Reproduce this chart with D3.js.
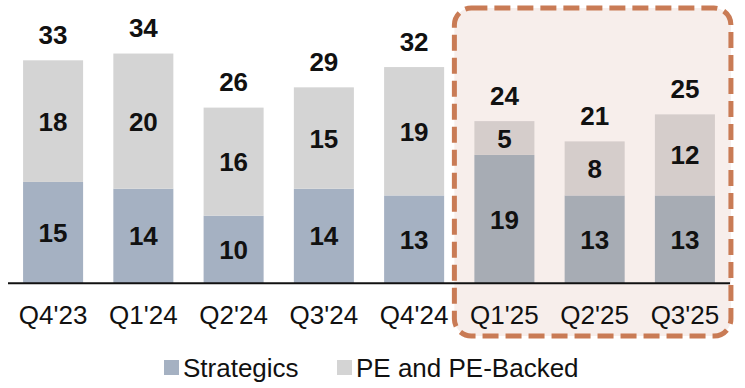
<!DOCTYPE html>
<html>
<head>
    <title></title>
    <script src="https://d3js.org/d3.v7.min.js"></script>
    <style type="text/css">
        html, body {
            margin: 0;
            padding: 0;
            background: #fff;
        }
        text {
            font-family: Arial, "Liberation Sans", sans-serif;
        }
    </style>
</head>
<body>

    <svg id="main"></svg>

    <script>
      // data
      const quarters    = ["Q4'23", "Q1'24", "Q2'24", "Q3'24", "Q4'24", "Q1'25", "Q2'25", "Q3'25"];
      const strategics  = [15, 14, 10, 14, 13, 19, 13, 13];
      const peBacked    = [18, 20, 16, 15, 19, 5, 8, 12];
      const highlighted = ["Q1'25", "Q2'25", "Q3'25"];
      const seriesNames = ["Strategics", "PE and PE-Backed"];

      // settings
      const width  = 745;
      const height = 388;
      const colors = {
        strategics: "#a5b1c2",
        pe:         "#d4d4d4",
        strategicsHi: "#a7acb4",
        peHi:       "#d5cdcb",
        boxFill:    "#f7eeeb",
        boxStroke:  "#c97b55"
      };

      const svg = d3.select("#main")
        .attr("width", width)
        .attr("height", height);

      const x = d3.scaleBand()
        .domain(quarters)
        .range([8, 730])
        .paddingInner(0.335)
        .paddingOuter(0.167);

      const y = d3.scaleLinear()
        .domain([0, 40])
        .range([283.3, 13]);

      const rows = quarters.map((q, i) => ({
        q: q,
        s: strategics[i],
        p: peBacked[i],
        hi: highlighted.includes(q)
      }));

      // highlight box behind the last bars
      const hx0 = x(highlighted[0]) - 20;
      const hx1 = x(highlighted[highlighted.length - 1]) + x.bandwidth() + 16;
      svg.append("rect")
        .attr("x", hx0)
        .attr("y", 8)
        .attr("width", hx1 - hx0)
        .attr("height", 328)
        .attr("rx", 17)
        .attr("fill", colors.boxFill)
        .attr("stroke", colors.boxStroke)
        .attr("stroke-width", 5)
        .attr("stroke-dasharray", "16 7");

      const g = svg.append("g");

      // strategics
      g.selectAll("rect.s")
        .data(rows)
        .enter()
        .append("rect")
        .attr("class", "s")
        .attr("x", d => x(d.q))
        .attr("y", d => y(d.s))
        .attr("width", x.bandwidth())
        .attr("height", d => y(0) - y(d.s))
        .attr("fill", d => d.hi ? colors.strategicsHi : colors.strategics);

      // PE
      g.selectAll("rect.p")
        .data(rows)
        .enter()
        .append("rect")
        .attr("class", "p")
        .attr("x", d => x(d.q))
        .attr("y", d => y(d.s + d.p))
        .attr("width", x.bandwidth())
        .attr("height", d => y(d.s) - y(d.s + d.p))
        .attr("fill", d => d.hi ? colors.peHi : colors.pe);

      // segment labels
      const cx = d => x(d.q) + x.bandwidth() / 2;
      const labelSize = 26;
      g.selectAll("text.sl")
        .data(rows)
        .enter()
        .append("text")
        .attr("x", cx)
        .attr("y", d => (y(0) + y(d.s)) / 2 + 9.5)
        .attr("text-anchor", "middle")
        .attr("font-size", labelSize)
        .attr("font-weight", "bold")
        .attr("fill", "#111")
        .text(d => d.s);

      g.selectAll("text.pl")
        .data(rows)
        .enter()
        .append("text")
        .attr("x", cx)
        .attr("y", d => (y(d.s) + y(d.s + d.p)) / 2 + 9.5)
        .attr("text-anchor", "middle")
        .attr("font-size", labelSize)
        .attr("font-weight", "bold")
        .attr("fill", "#111")
        .text(d => d.p);

      // totals
      g.selectAll("text.tl")
        .data(rows)
        .enter()
        .append("text")
        .attr("x", cx)
        .attr("y", d => y(d.s + d.p) - 16.5)
        .attr("text-anchor", "middle")
        .attr("font-size", labelSize)
        .attr("font-weight", "bold")
        .attr("fill", "#111")
        .text(d => d.s + d.p);

      // x axis
      const xAxis = svg.append("g")
        .attr("transform", `translate(0,${y(0)})`)
        .call(d3.axisBottom(x).tickSize(0).tickPadding(22));
      xAxis.select(".domain")
        .attr("d", "M8,0H730")
        .attr("stroke", "#111")
        .attr("stroke-width", 2);
      xAxis.selectAll("text")
        .attr("font-size", 26)
        .attr("font-family", "Arial, 'Liberation Sans', sans-serif")
        .attr("fill", "#111");

      // legend
      const legendX = [164, 337];
      const legendColors = [colors.strategics, colors.pe];
      const legend = svg.append("g");
      legend.selectAll("rect")
        .data(seriesNames)
        .enter()
        .append("rect")
        .attr("x", (d, i) => legendX[i])
        .attr("y", 360)
        .attr("width", 15)
        .attr("height", 15)
        .attr("fill", (d, i) => legendColors[i]);
      legend.selectAll("text")
        .data(seriesNames)
        .enter()
        .append("text")
        .attr("x", (d, i) => legendX[i] + 19)
        .attr("y", 377)
        .attr("font-size", 26)
        .attr("fill", "#111")
        .text(d => d);
    </script>

</body>
</html>
